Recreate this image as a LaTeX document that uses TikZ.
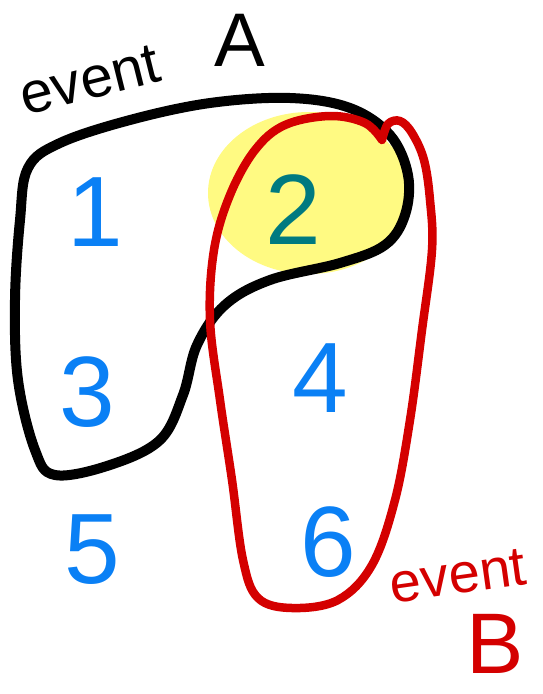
\documentclass[tikz,border=0pt]{standalone}
\usepackage{fontspec}
\setmainfont{Liberation Sans}
\usepackage{tikz}
\usetikzlibrary{positioning}
\definecolor{myblue}{RGB}{10,128,245}
\definecolor{myteal}{RGB}{0,122,128}
\definecolor{myred}{RGB}{212,0,0}
\definecolor{myyellow}{RGB}{255,250,130}
\tikzset{
  numlabel/.style={inner sep=0pt, text=myblue,
    font=\fontsize{100}{100}\selectfont},
  wordA/.style={inner sep=0pt, text=black,
    font=\fontsize{58}{58}\selectfont},
  wordB/.style={inner sep=0pt, text=myred,
    font=\fontsize{56}{56}\selectfont},
  setA/.style={draw=black, line width=10pt, line join=round, line cap=round},
  setB/.style={draw=myred, line width=8.5pt, line join=round, line cap=round}
}

\begin{document}
\begin{tikzpicture}[x=1pt, y=-1pt]
  \useasboundingbox (0,0) rectangle (543,694);

  % highlighted outcome (event A and B)
  \fill[myyellow] (309,193) ellipse [x radius=101, y radius=81];

  % event A outline
  \draw[setA] plot[smooth cycle, tension=0.6] coordinates {
    (28,168) (60,143) (130,120) (210,103) (290,98) (350,108)
    (390,135) (408,175) (405,215) (385,245) (340,263) (270,280)
    (225,305) (197,345) (183,395) (160,440) (110,465) (55,475)
    (35,450) (18,380) (15,300) (20,220)};

  % event B outline
  \draw[setB] plot[smooth, tension=0.6] coordinates {
    (382,140) (388,124) (400,121) (412,133) (424,160) (430,200)
    (432,250) (422,330) (410,420) (395,500) (372,565) (338,600)
    (292,608) (258,598) (243,560) (232,480) (220,400) (210,320)
    (214,250) (230,195) (255,150) (285,125) (330,116) (365,123)
    (382,140)};

  % outcomes
  \node[numlabel] (one)   at (95,212)  {1};
  \node[numlabel, text=myteal] (two) at (293,210) {2};
  \node[numlabel] (three) at (87,392)  {3};
  \node[numlabel] (four)  at (320,378) {4};
  \node[numlabel] (five)  at (92,550)  {5};
  \node[numlabel] (six)   at (328,542) {6};

  % event names
  \node[wordA, rotate=14] (evA) at (90,80) {event};
  \node[wordA, font=\fontsize{76}{76}\selectfont] (letA) at (240,40) {A};
  \node[wordB, rotate=8] (evB) at (458,576) {event};
  \node[wordB, font=\fontsize{86}{86}\selectfont] (letB) at (495,644) {B};
\end{tikzpicture}
\end{document}
